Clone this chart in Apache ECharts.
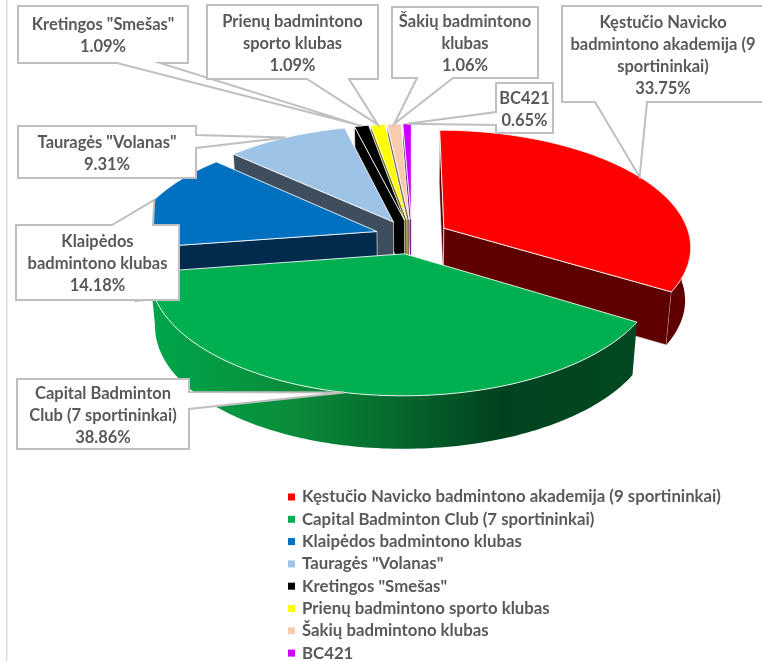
<!DOCTYPE html>
<html>
<head>
<meta charset="utf-8">
<title>Badmintono klubai</title>
<script src="https://cdn.jsdelivr.net/npm/echarts@6/dist/echarts.min.js"></script>
<style>
html, body { margin: 0; padding: 0; background: #fff; }
#main { width: 762px; height: 661px; }
</style>
</head>
<body>
<div id="main"></div>
<script>
var clubs = ['Kęstučio Navicko badmintono akademija (9 sportininkai)', 'Capital Badminton Club (7 sportininkai)', 'Klaipėdos badmintono klubas', 'Tauragės "Volanas"', 'Kretingos "Smešas"', 'Prienų badmintono sporto klubas', 'Šakių badmintono klubas', 'BC421'];
var shares = [33.75, 38.86, 14.18, 9.31, 1.09, 1.09, 1.06, 0.65];
var boxNames = ['Kęstučio Navicko\nbadmintono akademija (9\nsportininkai)', 'Capital Badminton\nClub (7 sportininkai)', 'Klaipėdos\nbadmintono klubas', 'Tauragės "Volanas"', 'Kretingos "Smešas"', 'Prienų badmintono\nsporto klubas', 'Šakių badmintono\nklubas', 'BC421'];

var topColors = ['#ff0000', '#00b050', '#0070c0', '#9dc3e6', '#000000', '#ffff00', '#f8cbad', '#cc00ff'];
var greenWall = { type: 'linear', x: 0, y: 0, x2: 1, y2: 0, colorStops: [
	{ offset: 0, color: '#00a64a' }, { offset: 0.3, color: '#0a8c3a' }, { offset: 0.5, color: '#05692d' },
	{ offset: 0.72, color: '#02431f' }, { offset: 1, color: '#024820' }] };
var wallColors = ['#5e0000', greenWall, '#002b4d', '#3f4e5e', '#000000', '#6b6b00', '#7d6250', '#5f0080'];

// back to front
var drawOrder = [7, 6, 5, 4, 3, 2, 0, 1];

// callouts: box [x0, y0, x1, y1], side the tail leaves from, tail base along that side
var callouts = [
	{ box: [562, 6, 764, 102], side: 'bottom', base: [595, 647] },
	{ box: [17, 379, 189, 449], side: 'right', base: [392, 409] },
	{ box: [16, 225, 179, 300], side: 'top', base: [112, 153] },
	{ box: [18, 126, 196, 178], side: 'right', base: [135, 148] },
	{ box: [18, 6, 188, 63], side: 'bottom', base: [117, 160] },
	{ box: [207, 5, 378, 79], side: 'bottom', base: [307, 349] },
	{ box: [392, 7, 538, 78], side: 'bottom', base: [417, 453] },
	{ box: [496, 83, 553, 133], side: 'left', base: [112, 125] }
];

// projection of the tilted pie
var cx = 412, cy = 236.5, rx = 246, ry = 115, persp = 0.15, explode = 0.15, depth = 53, shrink = 0.98;

var total = 0;
shares.forEach(function (v) { total += v; });
var angles = [];
var acc = 0;
shares.forEach(function (v) {
	var a0 = acc / total * Math.PI * 2;
	acc += v;
	angles.push([a0, acc / total * Math.PI * 2]);
});

function project(x, y, low) {
	var s = 1 / (1 - persp * y);
	var px = rx * x * s;
	var py = cy + ry * y * s;
	if (low) {
		return [cx + px * shrink, py + depth];
	}
	return [cx + px, py];
}
function slicePoint(i, a, r, low) {
	var mid = (angles[i][0] + angles[i][1]) / 2;
	var x = explode * Math.sin(mid) + r * Math.sin(a);
	var y = -explode * Math.cos(mid) - r * Math.cos(a);
	return project(x, y, low);
}
function arcPoints(i, a0, a1, low) {
	var pts = [];
	var n = Math.max(2, Math.ceil((a1 - a0) / 0.02));
	for (var k = 0; k <= n; k++) {
		pts.push(slicePoint(i, a0 + (a1 - a0) * k / n, 1, low));
	}
	return pts;
}

function renderSlice(params, api) {
	var i = api.value(0);
	var a0 = angles[i][0], a1 = angles[i][1];
	var apex = slicePoint(i, 0, 0, false);
	var apexLow = slicePoint(i, 0, 0, true);
	var wallStyle = { fill: wallColors[i], stroke: 'rgba(255,255,255,0.75)', lineWidth: 0.8 };
	var children = [];
	// only the cut faces turned to the viewer
	if (Math.sin(a0) < 1e-6) {
		children.push({ type: 'polygon', shape: { points: [apex, slicePoint(i, a0, 1, false), slicePoint(i, a0, 1, true), apexLow] }, style: wallStyle });
	}
	if (Math.sin(a1) > 1e-6) {
		children.push({ type: 'polygon', shape: { points: [apex, slicePoint(i, a1, 1, false), slicePoint(i, a1, 1, true), apexLow] }, style: wallStyle });
	}
	// rim, front half only
	var w0 = Math.max(a0, Math.PI / 2), w1 = Math.min(a1, Math.PI * 1.5);
	if (w1 > w0) {
		var rim = arcPoints(i, w0, w1, false).concat(arcPoints(i, w0, w1, true).reverse());
		children.push({ type: 'polygon', shape: { points: rim }, style: { fill: wallColors[i], stroke: null } });
	}
	children.push({ type: 'polygon', shape: { points: [apex].concat(arcPoints(i, a0, a1, false)) }, style: { fill: topColors[i], stroke: 'rgba(255,255,255,0.85)', lineWidth: 1 } });
	return { type: 'group', children: children };
}

function calloutShape(c, tip) {
	var b = c.box, t = c.base;
	if (c.side === 'bottom') {
		return [[b[0], b[1]], [b[2], b[1]], [b[2], b[3]], [t[1], b[3]], tip, [t[0], b[3]], [b[0], b[3]]];
	}
	if (c.side === 'top') {
		return [[b[0], b[1]], [t[0], b[1]], tip, [t[1], b[1]], [b[2], b[1]], [b[2], b[3]], [b[0], b[3]]];
	}
	if (c.side === 'right') {
		return [[b[0], b[1]], [b[2], b[1]], [b[2], t[0]], tip, [b[2], t[1]], [b[2], b[3]], [b[0], b[3]]];
	}
	return [[b[0], b[1]], [b[2], b[1]], [b[2], b[3]], [b[0], b[3]], [b[0], t[1]], tip, [b[0], t[0]]];
}

function renderCallout(params, api) {
	var i = api.value(0);
	var c = callouts[i];
	var mid = (angles[i][0] + angles[i][1]) / 2;
	var tip = slicePoint(i, mid, 1, false);
	return {
		type: 'group',
		children: [
			{ type: 'polygon', shape: { points: calloutShape(c, tip) }, style: { fill: '#fff', stroke: '#bfbfbf', lineWidth: 2 } },
			{
				type: 'text',
				x: (c.box[0] + c.box[2]) / 2,
				y: (c.box[1] + c.box[3]) / 2 + 1.5,
				style: {
					text: boxNames[i] + '\n' + shares[i].toFixed(2) + '%',
					x: 0, y: 0,
					align: 'center',
					verticalAlign: 'middle',
					fill: '#595959',
					font: 'bold 16.5px Lato',
					lineHeight: 22
				}
			}
		]
	};
}

var series = drawOrder.map(function (i) {
	return {
		name: clubs[i],
		type: 'custom',
		coordinateSystem: 'none',
		silent: true,
		itemStyle: { color: topColors[i] },
		renderItem: renderSlice,
		data: [[i]]
	};
});
series.push({
	name: 'Callouts',
	type: 'custom',
	coordinateSystem: 'none',
	silent: true,
	renderItem: renderCallout,
	data: clubs.map(function (n, i) { return [i]; })
});

var myChart = echarts.init(document.getElementById('main'));
var option = {
	animation: false,
	backgroundColor: '#fff',
	legend: {
		data: clubs,
		orient: 'vertical',
		left: 288,
		top: 486,
		height: 400,
		padding: 0,
		itemWidth: 7,
		itemHeight: 7,
		itemGap: 0.3,
		icon: 'rect',
		selectedMode: false,
		textStyle: { color: '#595959', fontFamily: 'Lato', fontWeight: 'bold', fontSize: 16.8, lineHeight: 22, padding: [0, 0, 0, 2] }
	},
	graphic: [
		{ type: 'line', shape: { x1: 6.7, y1: 0, x2: 6.7, y2: 661 }, style: { stroke: '#dcdcdc', lineWidth: 1.5 } }
	],
	series: series
};
myChart.setOption(option);
</script>
</body>
</html>
